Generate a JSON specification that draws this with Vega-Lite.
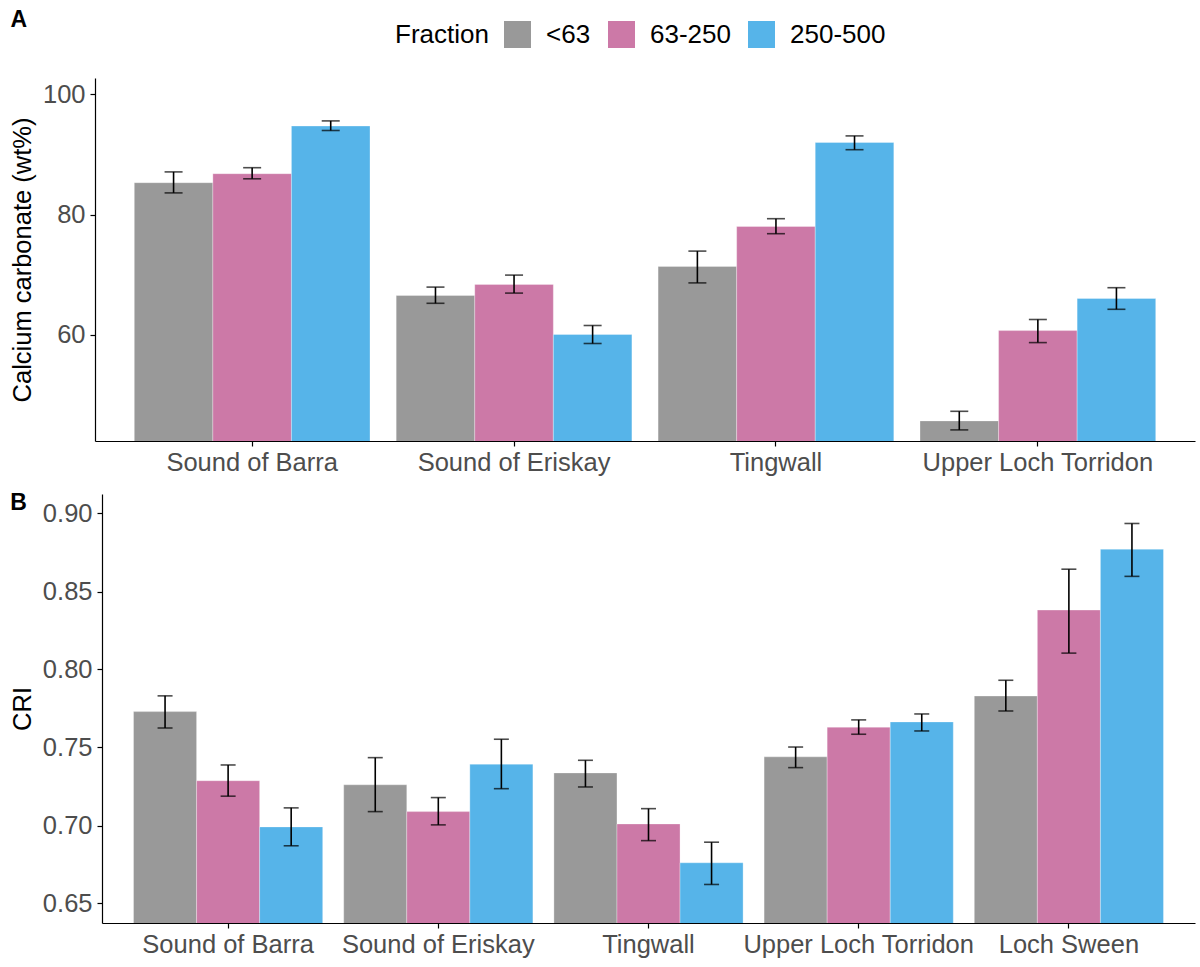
{
  "$schema": "https://vega.github.io/schema/vega-lite/v6.json",
  "padding": {"left": 10, "top": 9, "right": 5, "bottom": 5},
  "background": "white",
  "spacing": 16,
  "config": {
    "font": "Liberation Sans",
    "view": {"stroke": null},
    "axis": {
      "grid": false,
      "domainColor": "black",
      "domainWidth": 1.2,
      "tickColor": "black",
      "tickWidth": 1.2,
      "tickSize": 5,
      "labelColor": "#4D4D4D",
      "labelFontSize": 25.5,
      "labelPadding": 5,
      "labelLimit": 0,
      "titleColor": "black",
      "titleFontSize": 25.5,
      "titleFontWeight": "normal",
      "titlePadding": 7
    },
    "axisX": {"labelAngle": 0, "title": null, "labelPadding": 4}
  },
  "datasets": {
    "carbonate": [
      {"site": "Sound of Barra", "fraction": "<63", "value": 85.3, "lo": 83.6, "hi": 87.1},
      {"site": "Sound of Barra", "fraction": "63-250", "value": 86.8, "lo": 85.95, "hi": 87.8},
      {"site": "Sound of Barra", "fraction": "250-500", "value": 94.75, "lo": 94.0, "hi": 95.6},
      {"site": "Sound of Eriskay", "fraction": "<63", "value": 66.5, "lo": 65.2, "hi": 67.9},
      {"site": "Sound of Eriskay", "fraction": "63-250", "value": 68.35, "lo": 66.9, "hi": 69.9},
      {"site": "Sound of Eriskay", "fraction": "250-500", "value": 60.0, "lo": 58.5, "hi": 61.5},
      {"site": "Tingwall", "fraction": "<63", "value": 71.35, "lo": 68.6, "hi": 73.9},
      {"site": "Tingwall", "fraction": "63-250", "value": 78.0, "lo": 76.8, "hi": 79.3},
      {"site": "Tingwall", "fraction": "250-500", "value": 92.0, "lo": 90.8, "hi": 93.1},
      {"site": "Upper Loch Torridon", "fraction": "<63", "value": 45.6, "lo": 44.1, "hi": 47.2},
      {"site": "Upper Loch Torridon", "fraction": "63-250", "value": 60.65, "lo": 58.65, "hi": 62.5},
      {"site": "Upper Loch Torridon", "fraction": "250-500", "value": 66.0, "lo": 64.2, "hi": 67.8}
    ],
    "cri": [
      {"site": "Sound of Barra", "fraction": "<63", "value": 0.773, "lo": 0.7625, "hi": 0.7831},
      {"site": "Sound of Barra", "fraction": "63-250", "value": 0.7287, "lo": 0.7188, "hi": 0.7388},
      {"site": "Sound of Barra", "fraction": "250-500", "value": 0.6991, "lo": 0.687, "hi": 0.7113},
      {"site": "Sound of Eriskay", "fraction": "<63", "value": 0.7261, "lo": 0.7089, "hi": 0.7435},
      {"site": "Sound of Eriskay", "fraction": "63-250", "value": 0.7089, "lo": 0.7004, "hi": 0.7179},
      {"site": "Sound of Eriskay", "fraction": "250-500", "value": 0.7393, "lo": 0.7236, "hi": 0.7553},
      {"site": "Tingwall", "fraction": "<63", "value": 0.7337, "lo": 0.7247, "hi": 0.7418},
      {"site": "Tingwall", "fraction": "63-250", "value": 0.701, "lo": 0.6903, "hi": 0.7108},
      {"site": "Tingwall", "fraction": "250-500", "value": 0.6761, "lo": 0.6622, "hi": 0.6893},
      {"site": "Upper Loch Torridon", "fraction": "<63", "value": 0.744, "lo": 0.7371, "hi": 0.7503},
      {"site": "Upper Loch Torridon", "fraction": "63-250", "value": 0.763, "lo": 0.7585, "hi": 0.7677},
      {"site": "Upper Loch Torridon", "fraction": "250-500", "value": 0.7664, "lo": 0.7606, "hi": 0.7715},
      {"site": "Loch Sween", "fraction": "<63", "value": 0.783, "lo": 0.7734, "hi": 0.7931},
      {"site": "Loch Sween", "fraction": "63-250", "value": 0.8381, "lo": 0.8105, "hi": 0.8643},
      {"site": "Loch Sween", "fraction": "250-500", "value": 0.8771, "lo": 0.8597, "hi": 0.8936}
    ]
  },
  "resolve": {"scale": {"x": "independent", "y": "independent", "xOffset": "independent", "color": "shared"}},
  "vconcat": [
    {
      "title": {"text": "A", "offset": 28, "fontSize": 23, "fontWeight": "bold", "anchor": "start", "frame": "bounds", "color": "black", "baseline": "alphabetic"},
      "width": 1100,
      "height": 363,
      "data": {"name": "carbonate"},
      "encoding": {
        "x": {
          "field": "site", "type": "nominal",
          "sort": ["Sound of Barra", "Sound of Eriskay", "Tingwall", "Upper Loch Torridon"],
          "scale": {"paddingInner": 0.1, "paddingOuter": 0.15}
        },
        "xOffset": {
          "field": "fraction", "type": "nominal",
          "sort": ["<63", "63-250", "250-500"],
          "scale": {"paddingInner": 0, "paddingOuter": 0}
        }
      },
      "layer": [
        {
          "mark": {"type": "bar", "clip": true, "stroke": "white", "strokeWidth": 0.6, "strokeOpacity": 0.5},
          "encoding": {
            "y": {
              "field": "value", "type": "quantitative",
              "scale": {"domain": [42.25, 102.75], "nice": false, "zero": false},
              "axis": {"values": [60, 80, 100], "title": "Calcium carbonate (wt%)"}
            },
            "color": {
              "field": "fraction", "type": "nominal",
              "sort": ["<63", "63-250", "250-500"],
              "scale": {"domain": ["<63", "63-250", "250-500"], "range": ["#999999", "#CC79A7", "#56B4E9"]},
              "legend": {
                "title": "Fraction",
                "orient": "none",
                "direction": "horizontal",
                "legendX": 300,
                "legendY": -57,
                "titleOrient": "left",
                "titleFontSize": 26,
                "titleFontWeight": "normal",
                "titleColor": "black",
                "titlePadding": 15,
                "titleBaseline": "middle",
                "labelFontSize": 26,
                "labelColor": "black",
                "labelOffset": 15,
                "columnPadding": 17,
                "symbolType": "square",
                "symbolSize": 729,
                "symbolStrokeWidth": 0,
                "symbolOpacity": 1
              }
            }
          }
        },
        {
          "mark": {"type": "rule", "strokeWidth": 1.6, "color": "black"},
          "encoding": {"y": {"field": "lo", "type": "quantitative"}, "y2": {"field": "hi"}}
        },
        {
          "mark": {"type": "tick", "orient": "horizontal", "size": 18, "thickness": 1.6, "color": "black"},
          "encoding": {"y": {"field": "lo", "type": "quantitative"}}
        },
        {
          "mark": {"type": "tick", "orient": "horizontal", "size": 18, "thickness": 1.6, "color": "black"},
          "encoding": {"y": {"field": "hi", "type": "quantitative"}}
        }
      ]
    },
    {
      "title": {"text": "B", "offset": -39, "fontSize": 23, "fontWeight": "bold", "anchor": "start", "frame": "bounds", "color": "black", "baseline": "alphabetic"},
      "width": 1100,
      "height": 429,
      "data": {"name": "cri"},
      "encoding": {
        "x": {
          "field": "site", "type": "nominal",
          "sort": ["Sound of Barra", "Sound of Eriskay", "Tingwall", "Upper Loch Torridon", "Loch Sween"],
          "scale": {"paddingInner": 0.1, "paddingOuter": 0.15, "range": [7, 1100]}
        },
        "xOffset": {
          "field": "fraction", "type": "nominal",
          "sort": ["<63", "63-250", "250-500"],
          "scale": {"paddingInner": 0, "paddingOuter": 0}
        }
      },
      "layer": [
        {
          "mark": {"type": "bar", "clip": true, "stroke": "white", "strokeWidth": 0.6, "strokeOpacity": 0.5},
          "encoding": {
            "y": {
              "field": "value", "type": "quantitative",
              "scale": {"domain": [0.6375, 0.9125], "nice": false, "zero": false},
              "axis": {"values": [0.65, 0.7, 0.75, 0.8, 0.85, 0.9], "format": ".2f", "title": "CRI", "offset": -7}
            },
            "color": {
              "field": "fraction", "type": "nominal",
              "sort": ["<63", "63-250", "250-500"]
            }
          }
        },
        {
          "mark": {"type": "rule", "strokeWidth": 1.6, "color": "black"},
          "encoding": {"y": {"field": "lo", "type": "quantitative"}, "y2": {"field": "hi"}}
        },
        {
          "mark": {"type": "tick", "orient": "horizontal", "size": 15, "thickness": 1.6, "color": "black"},
          "encoding": {"y": {"field": "lo", "type": "quantitative"}}
        },
        {
          "mark": {"type": "tick", "orient": "horizontal", "size": 15, "thickness": 1.6, "color": "black"},
          "encoding": {"y": {"field": "hi", "type": "quantitative"}}
        }
      ]
    }
  ]
}
